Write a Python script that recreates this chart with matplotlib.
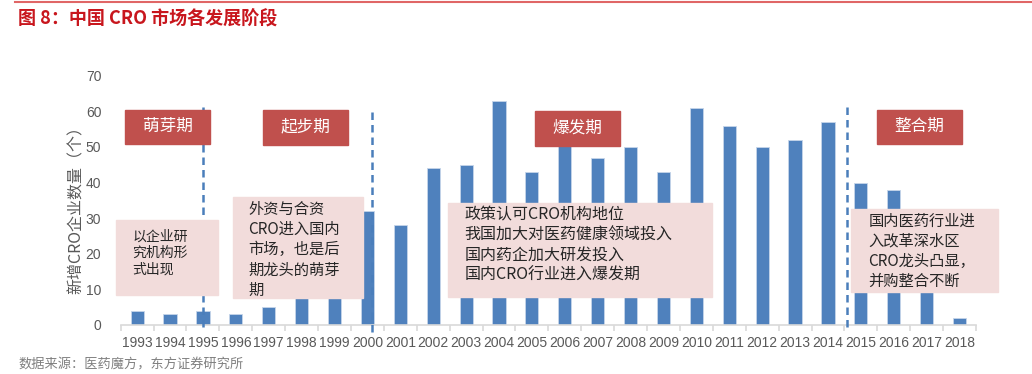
import numpy as np
import matplotlib.pyplot as plt
from matplotlib.patches import Rectangle

plt.rcParams['font.family'] = ['Noto Sans CJK SC', 'DejaVu Sans']

years = [str(y) for y in range(1993, 2019)]
counts = [4, 3, 4, 3, 5, 10, 17, 32, 28, 44, 45, 63, 43, 51, 47, 50, 43, 61,
          56, 50, 52, 57, 40, 38, 15, 2]

stage_names = ['萌芽期', '起步期', '爆发期', '整合期']
stage_notes = ['以企业研\n究机构形\n式出现',
               '外资与合资\nCRO进入国内\n市场，也是后\n期龙头的萌芽\n期',
               '政策认可CRO机构地位\n我国加大对医药健康领域投入\n国内药企加大研发投入\n国内CRO行业进入爆发期',
               '国内医药行业进\n入改革深水区\nCRO龙头凸显，\n并购整合不断']

W, H = 1032, 374
fig = plt.figure(figsize=(W / 100, H / 100), dpi=100)


def fx(px):
    return px / W


def fy(py):
    return 1 - py / H


ax = fig.add_axes([fx(120.7), fy(325), fx(976) - fx(120.7), fy(75.7) - fy(325)])
x = np.arange(len(years))
ax.bar(x, counts, width=0.4, color='#4F81BD', edgecolor='#C6D5EA', linewidth=0.6, zorder=2)
ax.set_xlim(-0.5, len(years) - 0.5)
ax.set_ylim(0, 70)
ax.set_yticks(range(0, 71, 10))
ax.set_xticks(x)
ax.set_xticklabels(years)
ax.set_xticks(np.arange(-0.5, len(years), 1), minor=True)
for s in ['top', 'right', 'left']:
    ax.spines[s].set_visible(False)
ax.spines['bottom'].set_color('#D9D9D9')
ax.spines['bottom'].set_linewidth(1.2)
ax.tick_params(axis='x', which='major', length=0, pad=8, labelsize=10, labelcolor='#595959')
ax.tick_params(axis='x', which='minor', length=4, color='#D9D9D9', width=1.2)
ax.tick_params(axis='y', length=0, pad=14, labelsize=10, labelcolor='#595959')
for lab in ax.get_xticklabels() + ax.get_yticklabels():
    lab.set_family('Liberation Sans')
ax.set_ylabel('新增CRO企业数量（个）', fontsize=11.5, color='#595959')
ax.yaxis.set_label_coords(-0.042, 0.477)

# stage dividers
for xv, y0, y1 in [(1.99, -0.5, 61.7), (7.13, -1.9, 60.3), (21.57, -0.6, 61.7)]:
    ax.plot([xv, xv], [y0, y1], color='#4A7EBB', lw=1.8, ls=(0, (3, 2)), clip_on=False, zorder=3)

# stage labels (pixel boxes)
red_boxes = [(125, 110, 210, 143.7), (263, 110, 347.7, 144.7),
             (535, 111, 619.7, 145.7), (877, 110, 961.7, 143.7)]
for (x0, y0, x1, y1), name in zip(red_boxes, stage_names):
    fig.patches.append(Rectangle((fx(x0), fy(y1)), fx(x1) - fx(x0), fy(y0) - fy(y1),
                                 transform=fig.transFigure, color='#C0504D', zorder=5))
    fig.text(fx((x0 + x1) / 2), fy((y0 + y1) / 2), name, color='white', fontsize=12,
             ha='center', va='center', zorder=6)

pink_boxes = [(116, 220, 217.7, 295), (233, 196.7, 362.7, 297.7),
              (447.7, 202.7, 712, 296.7), (851, 209, 997.7, 291.7)]
text_pos = [(132.7, 253), (248.3, 249.6), (464.3, 245), (868.3, 251.5)]
text_size = [10, 11, 11.5, 11]
for (x0, y0, x1, y1), (tx, ty), note, fs in zip(pink_boxes, text_pos, stage_notes, text_size):
    fig.patches.append(Rectangle((fx(x0), fy(y1)), fx(x1) - fx(x0), fy(y0) - fy(y1),
                                 transform=fig.transFigure, color='#F2DCDB', zorder=5))
    fig.text(fx(tx), fy(ty), note, color='#262626', fontsize=fs, ha='left', va='center',
             linespacing=1.25, zorder=6)

# header and footer
fig.add_artist(plt.Line2D([fx(15), 1], [fy(2), fy(2)], color='#E06666', lw=1.5,
                          transform=fig.transFigure))
fig.text(fx(18), fy(19), '图 8：中国 CRO 市场各发展阶段', color='#C8161D', fontsize=13,
         fontweight='bold', ha='left', va='center')
fig.text(fx(18), fy(365), '数据来源：医药魔方，东方证券研究所', color='#7F7F7F', fontsize=9.5,
         ha='left', va='center')

fig.savefig('out.png', dpi=100)
